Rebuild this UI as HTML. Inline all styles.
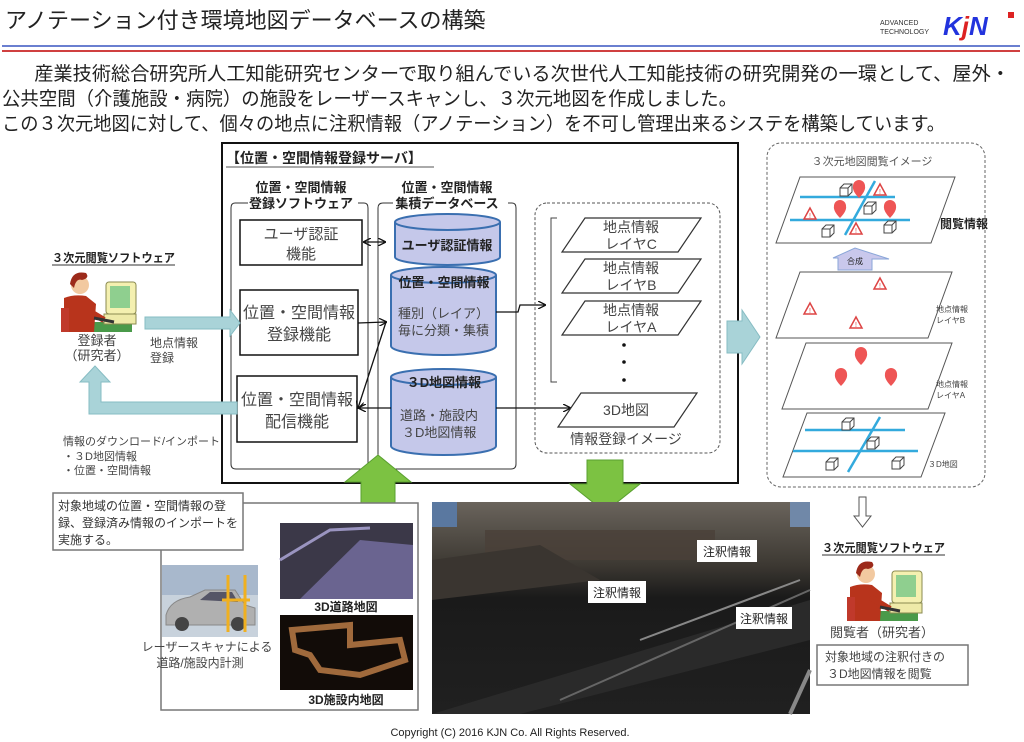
<!DOCTYPE html>
<html><head><meta charset="utf-8"><style>
html,body{margin:0;padding:0;background:#fff}
svg{display:block}
text{font-family:"Liberation Sans","Noto Sans CJK JP",sans-serif;fill:#222}
.b{font-weight:bold}
</style></head><body>
<svg width="1024" height="742" viewBox="0 0 1024 742" xmlns="http://www.w3.org/2000/svg">
<defs>
<marker id="ah" markerWidth="8" markerHeight="8" refX="7" refY="4" orient="auto-start-reverse" markerUnits="userSpaceOnUse"><path d="M0,0 L8,4 L0,8" fill="none" stroke="#111" stroke-width="1.3"/></marker>
<linearGradient id="pg" x1="0" y1="0" x2="0" y2="1">
<stop offset="0" stop-color="#6a645c"/><stop offset="0.3" stop-color="#3c3832"/><stop offset="0.45" stop-color="#1a1a1a"/><stop offset="1" stop-color="#202020"/>
</linearGradient>
<g id="person">
<rect x="-2" y="54" width="70" height="10" fill="#4a9a4a"/>
<path d="M0,30 Q10,26 22,28 L32,36 L30,64 L0,64 Z" fill="#b8341c"/>
<rect x="-3" y="40" width="8" height="24" fill="#c0392b"/>
<circle cx="16" cy="17" r="9" fill="#f2c9a0"/>
<path d="M6,16 Q8,2 22,5 Q26,10 18,12 Q12,10 10,20 Z" fill="#9c2a1a"/>
<rect x="42" y="14" width="30" height="32" rx="3" fill="#f4f0b0" stroke="#8a8a50"/>
<rect x="46" y="18" width="20" height="22" fill="#8fcf8f"/>
<rect x="40" y="46" width="32" height="10" fill="#eeeaa8" stroke="#8a8a50"/>
<path d="M20,40 L40,52" stroke="#b8341c" stroke-width="6"/>
<path d="M30,50 L50,54" stroke="#333" stroke-width="3"/>
</g>
<g id="box3"><path d="M0,4 L4,0 L12,0 L12,8 L8,12 L0,12 Z" fill="#fff" stroke="#444"/><path d="M0,4 L8,4 L12,0 M8,4 L8,12" fill="none" stroke="#444"/></g>
<g id="pin"><path d="M0,10 Q-7,3 -6,-2 A6,6 0 1,1 6,-2 Q7,3 0,10 Z" fill="#ee5555"/></g>
<g id="warn"><path d="M0,-6 L6,5 L-6,5 Z" fill="#fff" stroke="#d44" stroke-width="1.5"/><text x="-1" y="4" font-size="7" style="fill:#d44">!</text></g>
</defs>

<text x="5" y="28" font-size="22">アノテーション付き環境地図データベースの構築</text>
<text x="880" y="25" font-size="7" style="fill:#333">ADVANCED</text>
<text x="880" y="34" font-size="7" style="fill:#333">TECHNOLOGY</text>
<text x="943" y="35" font-size="26" font-style="italic" class="b" style="fill:#2233dd">K<tspan style="fill:#dd2222">j</tspan>N</text>
<rect x="1008" y="12" width="6" height="6" fill="#dd2222"/>
<rect x="2" y="45" width="1018" height="2" fill="#6a7fd0"/>
<rect x="2" y="50" width="1018" height="2" fill="#d04040"/>

<text x="15" y="80" font-size="19" textLength="995" lengthAdjust="spacingAndGlyphs">　産業技術総合研究所人工知能研究センターで取り組んでいる次世代人工知能技術の研究開発の一環として、屋外・</text>
<text x="2" y="105" font-size="19" textLength="735" lengthAdjust="spacingAndGlyphs">公共空間（介護施設・病院）の施設をレーザースキャンし、３次元地図を作成しました。</text>
<text x="2" y="130" font-size="19" textLength="943" lengthAdjust="spacingAndGlyphs">この３次元地図に対して、個々の地点に注釈情報（アノテーション）を不可し管理出来るシステを構築しています。</text>

<rect x="222" y="143" width="516" height="340" fill="none" stroke="#111" stroke-width="2"/>
<text x="226" y="163" font-size="14" class="b">【位置・空間情報登録サーバ】</text>
<line x1="226" y1="167" x2="434" y2="167" stroke="#555"/>
<path d="M248,203 L235,203 Q231,203 231,208 L231,464 Q231,469 236,469 L363,469 Q368,469 368,464 L368,208 Q368,203 364,203 L358,203" fill="none" stroke="#333"/>
<path d="M393,203 L383,203 Q378,203 378,208 L378,464 Q378,469 383,469 L511,469 Q516,469 516,464 L516,208 Q516,203 512,203 L508,203" fill="none" stroke="#333"/>
<text x="301" y="192" font-size="13" class="b" text-anchor="middle">位置・空間情報</text>
<text x="301" y="208" font-size="13" class="b" text-anchor="middle">登録ソフトウェア</text>
<text x="447" y="192" font-size="13" class="b" text-anchor="middle">位置・空間情報</text>
<text x="447" y="208" font-size="13" class="b" text-anchor="middle">集積データベース</text>

<rect x="240" y="220" width="122" height="45" fill="#fff" stroke="#111" stroke-width="1.5"/>
<text x="301" y="239" font-size="15" text-anchor="middle" style="fill:#444">ユーザ認証</text>
<text x="301" y="259" font-size="15" text-anchor="middle" style="fill:#444">機能</text>
<rect x="240" y="290" width="118" height="65" fill="#fff" stroke="#111" stroke-width="1.5"/>
<text x="299" y="318" font-size="16" text-anchor="middle" style="fill:#444">位置・空間情報</text>
<text x="299" y="340" font-size="16" text-anchor="middle" style="fill:#444">登録機能</text>
<rect x="237" y="376" width="120" height="66" fill="#fff" stroke="#111" stroke-width="1.5"/>
<text x="297" y="405" font-size="16" text-anchor="middle" style="fill:#444">位置・空間情報</text>
<text x="297" y="427" font-size="16" text-anchor="middle" style="fill:#444">配信機能</text>

<g fill="#c5c8ea" stroke="#3a6fb0" stroke-width="2">
<path d="M395,222 L395,257 A52.5,8 0 0,0 500,257 L500,222"/>
<ellipse cx="447.5" cy="222" rx="52.5" ry="8"/>
<path d="M391,275 L391,346 A52.5,9 0 0,0 496,346 L496,275"/>
<ellipse cx="443.5" cy="275" rx="52.5" ry="8"/>
<path d="M391,377 L391,446 A52.5,9 0 0,0 496,446 L496,377"/>
<ellipse cx="443.5" cy="377" rx="52.5" ry="8"/>
</g>
<text x="447" y="250" font-size="13" class="b" text-anchor="middle">ユーザ認証情報</text>
<text x="444" y="287" font-size="13" class="b" text-anchor="middle">位置・空間情報</text>
<text x="398" y="318" font-size="13" style="fill:#444">種別（レイア）</text>
<text x="398" y="335" font-size="13" style="fill:#444">毎に分類・集積</text>
<text x="444" y="387" font-size="13" class="b" text-anchor="middle">３D地図情報</text>
<text x="400" y="420" font-size="13" style="fill:#444">道路・施設内</text>
<text x="402" y="437" font-size="13" style="fill:#444">３D地図情報</text>

<g stroke="#111" stroke-width="1.3" fill="none">
<line x1="364" y1="242" x2="385" y2="242" marker-start="url(#ah)" marker-end="url(#ah)"/>
<line x1="358" y1="323" x2="386" y2="322" marker-end="url(#ah)"/>
<line x1="386" y1="322" x2="358" y2="408" marker-end="url(#ah)"/>
<line x1="391" y1="408" x2="359" y2="408" marker-end="url(#ah)"/>
<path d="M496,312 L518,312 L520,305 L545,305" marker-end="url(#ah)"/>
<line x1="496" y1="408" x2="570" y2="408" marker-end="url(#ah)"/>
</g>

<rect x="535" y="203" width="185" height="250" rx="12" fill="none" stroke="#555" stroke-dasharray="3,2"/>
<path d="M557,218 L551,218 L551,382 L557,382" fill="none" stroke="#444"/>
<g fill="#fff" stroke="#333" stroke-width="1.2">
<path d="M585,218 L701,218 L678,252 L562,252 Z"/>
<path d="M585,259 L701,259 L678,293 L562,293 Z"/>
<path d="M585,301 L701,301 L678,335 L562,335 Z"/>
<path d="M581,393 L697,393 L674,427 L558,427 Z"/>
</g>
<g font-size="14" text-anchor="middle">
<text x="631" y="232" style="fill:#444">地点情報</text><text x="631" y="249" style="fill:#444">レイヤC</text>
<text x="631" y="273" style="fill:#444">地点情報</text><text x="631" y="290" style="fill:#444">レイヤB</text>
<text x="631" y="315" style="fill:#444">地点情報</text><text x="631" y="332" style="fill:#444">レイヤA</text>
<text x="626" y="415" style="fill:#444">3D地図</text>
<text x="626" y="444" style="fill:#444">情報登録イメージ</text>
</g>
<circle cx="624" cy="345" r="1.8" fill="#111"/><circle cx="624" cy="362" r="1.8" fill="#111"/><circle cx="624" cy="380" r="1.8" fill="#111"/>

<path d="M727,321 L742,321 L742,310 L760,337 L742,364 L742,353 L727,353 Z" fill="#a9d3d8" stroke="#86bcc3"/>

<path d="M145,317 L230,317 L230,310 L240,323 L230,336 L230,329 L145,329 Z" fill="#a9d3d8" stroke="#86bcc3"/>
<path d="M237,402 L101,402 L101,382 L110,382 L95,366 L80,382 L89,382 L89,414 L237,414 Z" fill="#a9d3d8" stroke="#86bcc3"/>

<text x="52" y="262" font-size="12" class="b" textLength="123" lengthAdjust="spacingAndGlyphs">３次元閲覧ソフトウェア</text>
<line x1="52" y1="265" x2="175" y2="265" stroke="#333"/>
<use href="#person" x="64" y="268"/>
<text x="97" y="345" font-size="13" text-anchor="middle" style="fill:#444">登録者</text>
<text x="97" y="360" font-size="13" text-anchor="middle" style="fill:#444">（研究者）</text>
<text x="150" y="347" font-size="12" style="fill:#444">地点情報</text>
<text x="150" y="362" font-size="12" style="fill:#444">登録</text>
<text x="63" y="445" font-size="11" style="fill:#444">情報のダウンロード/インポート</text>
<text x="63" y="460" font-size="11" style="fill:#444">・３D地図情報</text>
<text x="63" y="474" font-size="11" style="fill:#444">・位置・空間情報</text>

<path d="M378,455 L411,482 L395,482 L395,510 L361,510 L361,482 L345,482 Z" fill="#7cc242" stroke="#5aa030"/>
<path d="M587,460 L623,460 L623,484 L640,484 L605,512 L570,484 L587,484 Z" fill="#7cc242" stroke="#5aa030"/>

<rect x="161" y="503" width="257" height="207" fill="#fff" stroke="#777" stroke-width="1.5"/>
<rect x="53" y="493" width="190" height="57" fill="#fff" stroke="#777" stroke-width="1.5"/>
<text x="58" y="510" font-size="12" style="fill:#333">対象地域の位置・空間情報の登</text>
<text x="58" y="527" font-size="12" style="fill:#333">録、登録済み情報のインポートを</text>
<text x="58" y="544" font-size="12" style="fill:#333">実施する。</text>
<rect x="162" y="565" width="96" height="72" fill="#c8d2dc"/>
<rect x="162" y="565" width="96" height="30" fill="#a8b8cc"/>
<path d="M166,615 Q170,600 190,597 L205,590 L235,590 L245,605 L255,608 L255,625 L166,625 Z" fill="#b0b0b0" stroke="#888"/>
<path d="M200,600 L210,592 L232,592 L238,602 Z" fill="#556"/>
<circle cx="182" cy="624" r="7" fill="#444"/><circle cx="238" cy="624" r="7" fill="#444"/>
<path d="M228,575 L228,632 M245,575 L245,632 M222,600 L250,600" stroke="#f0b020" stroke-width="3"/>
<text x="207" y="651" font-size="12" text-anchor="middle" style="fill:#444">レーザースキャナによる</text>
<text x="200" y="667" font-size="12" text-anchor="middle" style="fill:#444">道路/施設内計測</text>
<rect x="280" y="523" width="133" height="76" fill="#3b3848"/>
<path d="M300,599 L360,540 L413,545 L413,599 Z" fill="#6a6490"/>
<path d="M280,560 L330,530 L370,528" stroke="#9a94c0" stroke-width="3" fill="none"/>
<text x="346" y="611" font-size="12" class="b" text-anchor="middle">3D道路地図</text>
<rect x="280" y="615" width="133" height="75" fill="#120c08"/>
<path d="M292,630 L350,625 L350,645 L400,640 L405,660 L360,675 L320,670 L310,655 L295,650 Z" fill="none" stroke="#a06a3c" stroke-width="6"/>
<text x="346" y="704" font-size="12" class="b" text-anchor="middle">3D施設内地図</text>

<rect x="432" y="502" width="378" height="212" fill="url(#pg)"/>
<rect x="432" y="502" width="25" height="25" fill="#5a78a0"/>
<rect x="790" y="502" width="20" height="25" fill="#7088a8"/>
<rect x="485" y="530" width="230" height="30" fill="#4a4038" opacity="0.8"/>
<path d="M432,560 L540,545 L600,580 L432,600 Z" fill="#3a3530"/>
<path d="M432,714 L810,600 L810,640 L520,714 Z" fill="#2a2a2a"/>
<path d="M560,700 L810,590" stroke="#666" stroke-width="2"/>
<path d="M640,640 L800,580" stroke="#888" stroke-width="2"/>
<path d="M790,714 L810,670" stroke="#888" stroke-width="4"/>
<rect x="697" y="540" width="60" height="22" fill="#fff"/>
<text x="727" y="556" font-size="12" text-anchor="middle">注釈情報</text>
<rect x="588" y="581" width="58" height="22" fill="#fff"/>
<text x="617" y="597" font-size="12" text-anchor="middle">注釈情報</text>
<rect x="736" y="607" width="56" height="22" fill="#fff"/>
<text x="764" y="623" font-size="12" text-anchor="middle">注釈情報</text>

<rect x="767" y="143" width="218" height="344" rx="14" fill="none" stroke="#666" stroke-dasharray="3,2"/>
<text x="872" y="165" font-size="11" text-anchor="middle" style="fill:#555">３次元地図閲覧イメージ</text>
<g fill="#fff" stroke="#555">
<path d="M800,177 L955,177 L931,243 L776,243 Z"/>
<path d="M800,272 L952,272 L928,338 L776,338 Z"/>
<path d="M806,343 L952,343 L928,409 L782,409 Z"/>
<path d="M807,413 L945,413 L921,477 L783,477 Z"/>
</g>
<g stroke="#33aadd" stroke-width="2.5">
<line x1="800" y1="197" x2="895" y2="197"/><line x1="790" y1="220" x2="910" y2="220"/><line x1="875" y1="181" x2="845" y2="235"/>
<line x1="805" y1="430" x2="905" y2="430"/><line x1="793" y1="451" x2="918" y2="451"/><line x1="880" y1="417" x2="848" y2="472"/>
</g>
<use href="#box3" x="840" y="184"/><use href="#box3" x="864" y="202"/><use href="#box3" x="822" y="225"/><use href="#box3" x="884" y="221"/>
<use href="#box3" x="842" y="418"/><use href="#box3" x="867" y="437"/><use href="#box3" x="826" y="458"/><use href="#box3" x="892" y="457"/>
<use href="#pin" x="859" y="188"/><use href="#pin" x="840" y="208"/><use href="#pin" x="890" y="208"/>
<use href="#pin" x="861" y="355"/><use href="#pin" x="841" y="376"/><use href="#pin" x="891" y="376"/>
<use href="#warn" x="880" y="190"/><use href="#warn" x="810" y="214"/><use href="#warn" x="856" y="229"/>
<use href="#warn" x="880" y="284"/><use href="#warn" x="810" y="309"/><use href="#warn" x="856" y="323"/>
<path d="M833,258 L855,248 L889,259 L872,259 L872,270 L838,270 L838,258 Z" fill="#c9c8ec" stroke="#8aa6d8"/>
<text x="855" y="264" font-size="8" text-anchor="middle">合成</text>
<text x="940" y="228" font-size="12" class="b">閲覧情報</text>
<text x="936" y="312" font-size="8" style="fill:#444">地点情報</text><text x="936" y="323" font-size="8" style="fill:#444">レイヤB</text>
<text x="936" y="387" font-size="8" style="fill:#444">地点情報</text><text x="936" y="398" font-size="8" style="fill:#444">レイヤA</text>
<text x="928" y="467" font-size="8" style="fill:#444">３D地図</text>

<path d="M859,497 L866,497 L866,516 L871,516 L862.5,527 L854,516 L859,516 Z" fill="#fff" stroke="#555"/>
<text x="822" y="552" font-size="12" class="b" textLength="123" lengthAdjust="spacingAndGlyphs">３次元閲覧ソフトウェア</text>
<line x1="822" y1="555" x2="945" y2="555" stroke="#333"/>
<use href="#person" x="850" y="557"/>
<text x="830" y="637" font-size="13" style="fill:#444">閲覧者（研究者）</text>
<rect x="817" y="645" width="151" height="40" fill="#fff" stroke="#777" stroke-width="1.5"/>
<text x="825" y="661" font-size="12" style="fill:#444">対象地域の注釈付きの</text>
<text x="827" y="678" font-size="12" style="fill:#444">３D地図情報を閲覧</text>

<text x="510" y="736" font-size="11" text-anchor="middle">Copyright (C) 2016 KJN Co. All Rights Reserved.</text>
</svg>
</body></html>
